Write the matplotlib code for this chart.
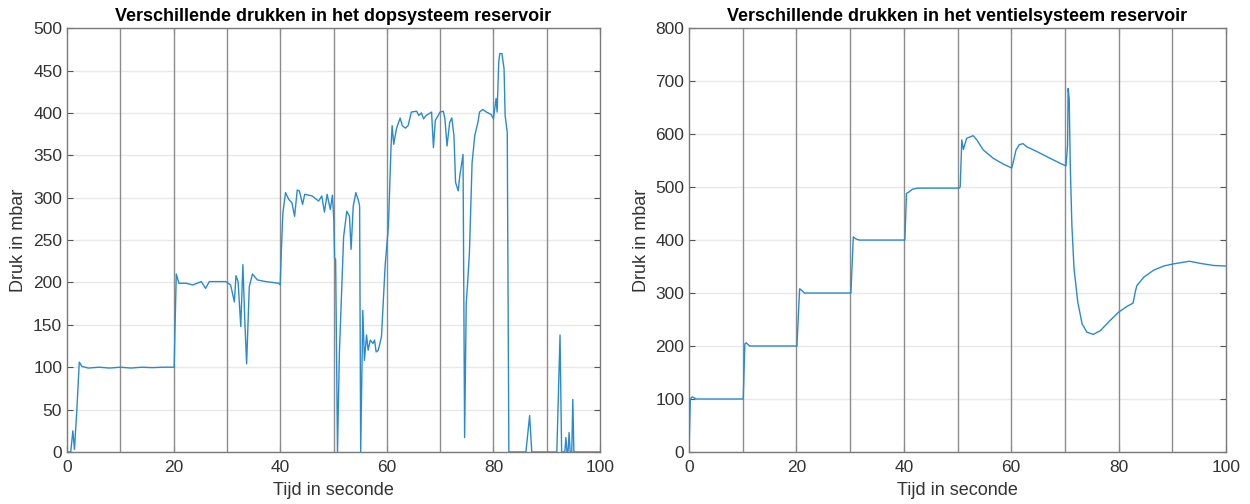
import matplotlib
matplotlib.use("Agg")
import matplotlib.pyplot as plt

plt.rcParams['font.family'] = ['Liberation Sans', 'DejaVu Sans']

# Left chart: dopsysteem
t_dop = [0, 0.7, 1.1, 1.4, 1.86, 2.3, 2.8, 4, 6, 8, 10, 12, 14, 16, 18, 20.1,
         20.5, 21, 22.4, 23.6, 25.2, 26, 26.7, 28.6, 29.8, 30.7, 31.4, 31.7, 32.1,
         32.6, 33, 33.35, 33.7, 34.2, 34.8, 35.7, 37.3, 39.75, 40, 40.2, 40.5, 41,
         41.6, 42.2, 42.7, 43.2, 43.6, 44.2, 44.6, 46, 47.2, 47.8, 48.3, 48.8, 49.4,
         49.8, 50.06, 50.2, 50.4, 50.75, 51.1, 51.9, 52.5, 53, 53.3, 53.7, 54.2,
         54.7, 54.9, 55.1, 55.5, 55.8, 56.2, 56.5, 56.9, 57.4, 57.7, 58, 58.4, 59,
         59.7, 60.3, 60.8, 61, 61.3, 61.8, 62.5, 62.9, 63.5, 64, 64.6, 65.6, 66,
         66.5, 66.9, 67.4, 68.4, 68.75, 69.1, 70, 70.6, 70.9, 71.3, 71.8, 72.2,
         72.6, 72.9, 73.4, 73.7, 74.3, 74.6, 74.9, 75.2, 75.5, 76, 76.5, 77.1,
         77.4, 78, 78.7, 79.6, 80, 80.5, 80.7, 81, 81.2, 81.6, 82, 82.2, 82.6,
         82.9, 86.1, 86.8, 87.2, 91.9, 92.5, 92.8, 93.4, 93.6, 93.8, 94.0, 94.2,
         94.4, 94.7, 94.9, 95.1, 100]
p_dop = [0, 0, 25, 3, 51, 106, 101, 99, 100, 99, 100, 99, 100, 99.5, 100, 100,
         210, 199, 199, 197, 201, 193, 201, 201, 201, 197, 177, 208, 201,
         148, 221, 157, 104, 195, 210, 203, 201, 199, 197, 235, 282, 306,
         298, 294, 278, 309, 308, 292, 304, 302, 296, 302, 283, 304, 286,
         303, 274, 229, 227, 0, 116, 254, 284, 278, 239, 290, 306,
         296, 290, 0, 167, 108, 138, 120, 132, 128, 132, 118, 120, 136,
         221, 266, 361, 385, 363, 381, 394, 385, 382, 385, 401, 402, 397,
         400, 393, 397, 401, 359, 391, 401, 402, 393, 361, 389, 394,
         373, 318, 308, 326, 351, 17, 175, 203, 235, 341, 373, 389,
         401, 404, 401, 398, 393, 417, 401, 460, 470, 470, 452, 397, 377,
         0, 0, 43, 0, 0, 138, 0, 0, 17, 0, 0, 23,
         0, 0, 62, 0, 0]

# Right chart: ventielsysteem
t_ven = [0, 0.25, 0.6, 1.4, 9.9, 10.1, 10.4, 10.65, 11.3, 19.9, 20.1, 20.6, 21,
         21.5, 29.9, 30.15, 30.6, 31.1, 31.7, 40.0, 40.2, 40.5, 41, 41.6, 42.6,
         50.3, 50.5, 50.8, 51.1, 51.7, 52.9, 53.6, 54.8, 56.7, 58.6, 60.1, 60.4,
         60.9, 61.5, 62.2, 62.9, 64.8, 67.3, 69.1, 70.2, 70.5, 70.6, 70.8, 71,
         71.3, 71.7, 72.4, 73.2, 74.1, 75.3, 76.6, 78.4, 80, 81.6, 82.7, 83.1,
         83.4, 84.7, 86.5, 88.4, 90.2, 93.2, 95.2, 97.7, 100]
p_ven = [0, 100, 104, 100, 100, 100, 204, 206, 200, 200, 200, 308, 305,
         300, 300, 300, 406, 402, 400, 400, 400, 488, 491, 496, 498,
         498, 500, 589, 571, 592, 597, 589, 570, 554, 543, 536, 548,
         570, 580, 582, 576, 567, 554, 545, 540, 579, 686, 667, 541,
         428, 346, 283, 242, 226, 222, 229, 248, 264, 275, 281, 302,
         314, 330, 343, 351, 355, 360, 356, 352, 351]

titles = ["Verschillende drukken in het dopsysteem reservoir",
          "Verschillende drukken in het ventielsysteem reservoir"]
xlabel = "Tijd in seconde"
ylabel = "Druk in mbar"
xticks = [0, 20, 40, 60, 80, 100]
yticks_dop = [0, 50, 100, 150, 200, 250, 300, 350, 400, 450, 500]
yticks_ven = [0, 100, 200, 300, 400, 500, 600, 700, 800]
markers = [10, 20, 30, 40, 50, 60, 70, 80, 90]

line_color = '#2a8ad0'
text_color = '#333333'

fig = plt.figure(figsize=(12.5, 5.04), dpi=100)
ax1 = fig.add_axes([0.0536, 0.1032, 0.4264, 0.841])
ax2 = fig.add_axes([0.5512, 0.1032, 0.4296, 0.841])

for ax, t, p, title, yt in [(ax1, t_dop, p_dop, titles[0], yticks_dop),
                            (ax2, t_ven, p_ven, titles[1], yticks_ven)]:
    ax.set_xlim(0, 100)
    ax.set_ylim(yt[0], yt[-1])
    ax.set_xticks(xticks)
    ax.set_yticks(yt)
    ax.yaxis.grid(True, color='#e8e8e8', linewidth=1.0)
    ax.set_axisbelow(True)
    for m in markers:
        ax.axvline(m, color='#8c8c8c', linewidth=1.0, zorder=1)
    ax.plot(t, p, color=line_color, linewidth=1.0, zorder=3)
    ax.set_title(title, fontsize=13, fontweight='bold', color='black', pad=5)
    ax.set_xlabel(xlabel, fontsize=13, color=text_color, labelpad=5)
    ax.set_ylabel(ylabel, fontsize=13, color=text_color, labelpad=4)
    ax.tick_params(direction='in', length=4, width=0.8, colors=text_color,
                   labelsize=12.5, top=True, right=True, color='#555555')
    ax.tick_params(axis='x', pad=6)
    for s in ax.spines.values():
        s.set_color('#7a7a7a')
        s.set_linewidth(1.0)

fig.savefig("out.png", dpi=100, facecolor='white')
